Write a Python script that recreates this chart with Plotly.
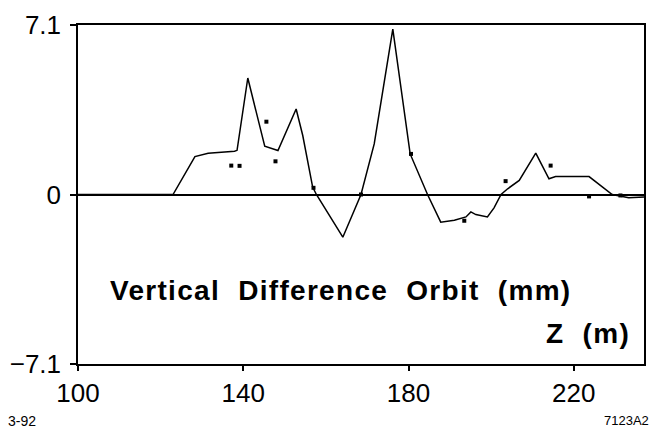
import plotly.graph_objects as go

# Orbit curve (z in m, vertical difference in mm)
line_z = [100, 123.0, 128.3, 131.5, 137.9, 138.5, 141.1, 145.2, 148.4, 152.8, 154.4, 156.8, 157.7,
          164.1, 168.5, 171.7, 176.2, 180.4, 184.6, 187.8, 191.1, 193.9, 195.1, 196.3, 199.1,
          200.7, 202.4, 204.0, 206.8, 210.8, 214.0, 215.6, 223.7, 229.3, 233.3, 237.0]
line_y = [0, 0, 1.59, 1.73, 1.81, 1.85, 4.88, 2.02, 1.84, 3.58, 2.47, 0.31, 0.0,
          -1.79, 0.0, 2.12, 6.93, 1.70, 0.0, -1.16, -1.08, -0.94, -0.73, -0.84, -0.94,
          -0.56, 0.0, 0.24, 0.59, 1.73, 0.66, 0.75, 0.75, 0.0, -0.14, -0.10]

# Measured points
pt_z = [137.1, 139.1, 145.6, 147.8, 157.0, 168.5, 180.6, 193.5, 203.5, 214.4, 223.7, 231.3]
pt_y = [1.21, 1.20, 3.05, 1.39, 0.28, 0.0, 1.70, -1.10, 0.56, 1.21, -0.08, -0.04]

x_ticks = [100, 140, 180, 220]
y_ticks = [-7.1, 0, 7.1]
y_ticktext = ["\u22127.1", "0", "7.1"]

FONT = "Liberation Sans, Arial, Helvetica, sans-serif"

fig = go.Figure()
fig.add_trace(go.Scatter(x=line_z, y=line_y, mode="lines",
                         line=dict(color="black", width=1.5), showlegend=False))
fig.add_trace(go.Scatter(x=pt_z, y=pt_y, mode="markers",
                         marker=dict(color="black", size=4, symbol="square"), showlegend=False))

fig.update_layout(
    width=653, height=431,
    margin=dict(l=78, r=7, t=25, b=67),
    paper_bgcolor="white", plot_bgcolor="white",
    font=dict(family=FONT, color="black"),
    xaxis=dict(range=[100, 237], tickvals=x_ticks, ticks="outside", ticklen=5,
               tickcolor="black", tickwidth=1.5, showline=True, mirror=True,
               linecolor="black", linewidth=1.5, showgrid=False, zeroline=False,
               tickfont=dict(size=26, family=FONT, color="black")),
    yaxis=dict(range=[-7.1, 7.1], tickvals=y_ticks, ticktext=y_ticktext, ticks="outside",
               ticklen=6, tickcolor="black", tickwidth=1.5, showline=True, mirror=True,
               linecolor="black", linewidth=1.5, showgrid=False, zeroline=True,
               zerolinecolor="black", zerolinewidth=1.5, ticklabelstandoff=4,
               tickfont=dict(size=26, family=FONT, color="black")),
    annotations=[
        dict(text="<b><span style='letter-spacing:1.3px'>Vertical\u00a0\u00a0Difference\u00a0\u00a0Orbit\u00a0\u00a0(mm)</span></b>",
             xref="paper", yref="paper", x=0.464, y=0.218, xanchor="center", yanchor="middle",
             showarrow=False, font=dict(size=28, family=FONT, color="black")),
        dict(text="<b><span style='letter-spacing:1.3px'>Z\u00a0\u00a0(m)</span></b>",
             xref="paper", yref="paper", x=0.978, y=0.0885, xanchor="right", yanchor="middle",
             showarrow=False, font=dict(size=28, family=FONT, color="black")),
        dict(text="3-92", xref="paper", yref="paper", x=-0.127, y=-0.168,
             xanchor="left", yanchor="middle", showarrow=False,
             font=dict(size=14, family=FONT, color="black")),
        dict(text="7123A2", xref="paper", yref="paper", x=1.012, y=-0.168,
             xanchor="right", yanchor="middle", showarrow=False,
             font=dict(size=13, family=FONT, color="black")),
    ],
)

fig.write_html("out.html", config={"displayModeBar": False},
               post_script="document.body.style.margin='0';")
